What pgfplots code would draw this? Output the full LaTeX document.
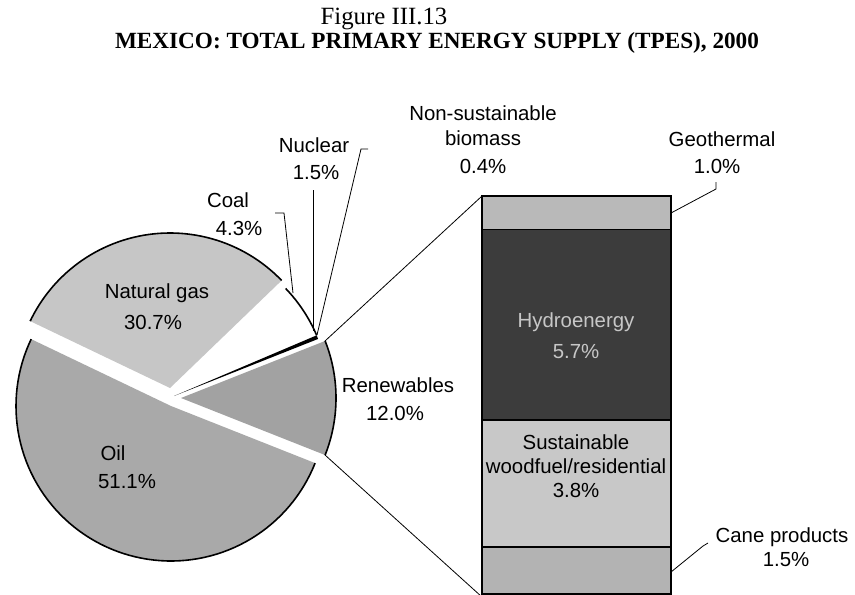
\documentclass[border=0pt]{standalone}
\usepackage{pgfplots}
\pgfplotsset{compat=1.18}
\usepackage{fontspec}
\setmainfont{Liberation Sans}
\newfontfamily\titlefont{Liberation Serif}
\definecolor{oilc}{HTML}{A9A9A9}
\definecolor{gasc}{HTML}{C6C6C6}
\definecolor{renc}{HTML}{A2A2A2}
\definecolor{hydc}{HTML}{3C3C3C}
\definecolor{susc}{HTML}{C8C8C8}
\definecolor{geoc}{HTML}{B9B9B9}
\definecolor{canc}{HTML}{B3B3B3}
\newcommand\lbl{\fontsize{10.2}{12}\selectfont}
% shares of TPES (%)
\def\oil{51.1}\def\gas{30.7}\def\coal{4.3}\def\nuc{1.5}\def\nsb{0.4}\def\ren{12.0}
\def\R{155}
\newcommand\slicefill[5]{%
  \addplot[fill=#5, draw=none, domain=#3:#4, samples=80, variable=\t]
    ({#1+\R*cos(\t)},{#2-\R*sin(\t)}) -- (axis cs:#1,#2) -- cycle;}
\newcommand\slicearc[4]{%
  \addplot[draw=black, line width=0.8pt, domain=#3:#4, samples=80, variable=\t]
    ({#1+\R*cos(\t)},{#2-\R*sin(\t)});}
\newcommand\lab[3]{\node[font=\lbl, inner sep=0pt] at (axis cs:#1,#2) {#3};}
\begin{document}
\begin{tikzpicture}
\pgfmathsetmacro\aA{-1.8*\ren}
\pgfmathsetmacro\aB{1.8*\ren}
\pgfmathsetmacro\aC{\aB+3.6*\nsb}
\pgfmathsetmacro\aD{\aC+3.6*\nuc}
\pgfmathsetmacro\aE{\aD+3.6*\coal}
\pgfmathsetmacro\aF{\aE+3.6*\gas}
\pgfmathsetmacro\aG{\aF+3.6*\oil}
% ---------- stacked bar (renewables breakdown) ----------
\begin{axis}[width=427.5pt, height=297pt, scale only axis,
  xmin=0, xmax=855, ymin=0.1, ymax=17.86, hide axis,
  ybar stacked, bar width=189]
\addplot[fill=canc, draw=black, line width=0.8pt] coordinates {(576.5,1.5)};
\addplot[fill=susc, draw=black, line width=0.8pt] coordinates {(576.5,3.8)};
\addplot[fill=hydc, draw=black, line width=0.8pt] coordinates {(576.5,5.7)};
\addplot[fill=geoc, draw=black, line width=0.8pt] coordinates {(576.5,1.0)};
\end{axis}
% ---------- pie and annotations (pixel units, y downwards) ----------
\begin{axis}[width=427.5pt, height=297pt, scale only axis,
  xmin=0, xmax=855, ymin=0, ymax=594, y dir=reverse, hide axis, clip=false]
\slicefill{171}{406}{\aF}{\aG}{oilc}
\slicefill{170}{388}{\aE}{\aF}{gasc}
\slicefill{174}{396}{\aB}{\aC}{black}
\slicefill{181}{398}{\aA}{\aB}{renc}
\slicearc{171}{406}{\aF}{\aG}
\slicearc{170}{388}{\aE}{\aF}
\slicearc{174}{396}{\aC}{\aE}
\slicearc{181}{398}{\aA}{\aB}
% connectors and leaders
\addplot[black, thin] coordinates {(325,341) (482,196)};
\addplot[black, thin] coordinates {(325,455) (482,597)};
\addplot[black, thin] coordinates {(275,213) (284,213) (293,293)};
\addplot[black, thin] coordinates {(313,190) (313,331)};
\addplot[black, thin] coordinates {(368,149) (361,149) (317,335)};
\addplot[black, thin] coordinates {(716,182) (716,189) (671,213)};
\addplot[black, thin] coordinates {(708,543) (703,546) (671,572)};
% titles
\node[font=\titlefont\fontsize{12.4}{14}\selectfont, anchor=base, inner sep=0pt] at (axis cs:384,25) {Figure III.13};
\node[font=\titlefont\bfseries\fontsize{11.6}{14}\selectfont, anchor=base, inner sep=0pt] at (axis cs:437,48) {MEXICO: TOTAL PRIMARY ENERGY SUPPLY (TPES), 2000};
% labels
\lab{157}{293}{Natural gas}
\lab{153}{322}{30.7\%}
\lab{113}{453}{Oil}
\lab{127}{482}{51.1\%}
\lab{228}{200}{Coal}
\lab{239}{228}{4.3\%}
\lab{314}{145}{Nuclear}
\lab{316}{173}{1.5\%}
\lab{483}{113}{Non-sustainable}
\lab{483}{138}{biomass}
\lab{483}{166}{0.4\%}
\lab{722}{139}{Geothermal}
\lab{717}{166}{1.0\%}
\lab{398}{385}{Renewables}
\lab{395}{413}{12.0\%}
\node[font=\lbl, inner sep=0pt, text=black!22] at (axis cs:576,322) {Hydroenergy};
\node[font=\lbl, inner sep=0pt, text=black!22] at (axis cs:576,352) {5.7\%};
\lab{576}{442}{Sustainable}
\lab{576}{466}{woodfuel/residential}
\lab{576}{490}{3.8\%}
\lab{782}{537}{Cane products}
\lab{786}{560}{1.5\%}
\end{axis}
\pgfresetboundingbox
\path[use as bounding box] (0,0) rectangle (427.5pt,297pt);
\end{tikzpicture}
\end{document}
